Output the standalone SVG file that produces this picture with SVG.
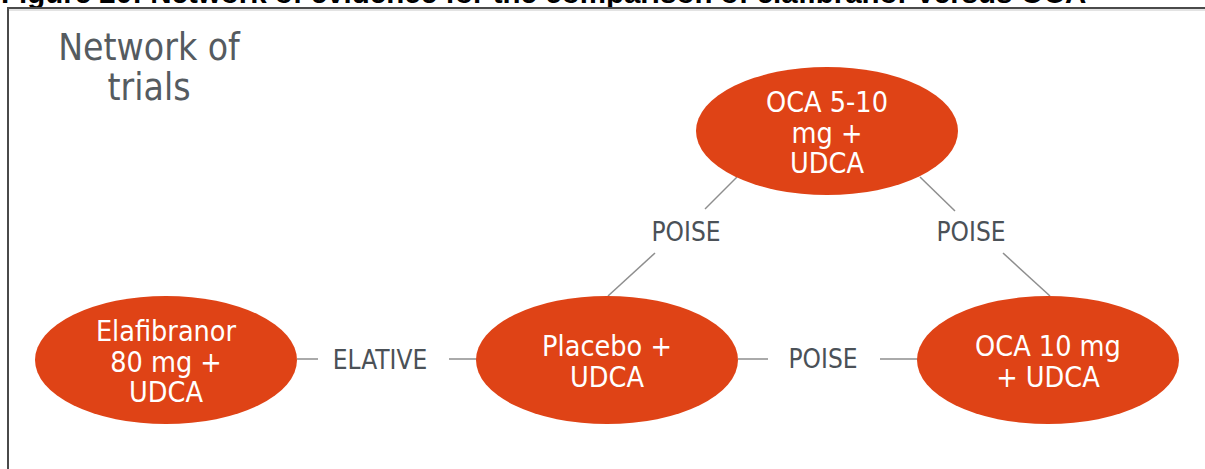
<svg xmlns="http://www.w3.org/2000/svg" width="1205" height="469" viewBox="0 0 1205 469">
<style>
.node{fill:#DF4316}
.nt{font-family:"DejaVu Sans Condensed","DejaVu Sans",sans-serif;font-stretch:condensed;font-size:28.5px;fill:#ffffff;text-anchor:middle}
.lbl{font-family:"DejaVu Sans Condensed","DejaVu Sans",sans-serif;font-stretch:condensed;font-size:26px;fill:#4b5157;text-anchor:middle}
.head{font-family:"DejaVu Sans Condensed","DejaVu Sans",sans-serif;font-stretch:condensed;font-size:37px;fill:#555b60;text-anchor:middle}
.edge{stroke:#8e8e8e;stroke-width:1.5;fill:none}
.title{font-family:"Liberation Sans",Arial,sans-serif;font-weight:bold;font-size:29.5px;fill:#000}
</style>
<rect width="1205" height="469" fill="#ffffff"/>
<text class="title" x="1" y="3">Figure 20: Network of evidence for the comparison of elafibranor versus OCA</text>
<path d="M8 469 V8 H1205" fill="none" stroke="#4a4a4a" stroke-width="2"/>
<line x1="9" y1="10" x2="1205" y2="10" stroke="#c8c8c8" stroke-width="1"/>
<g id="heading">
<text class="head" x="149" y="60">Network of</text>
<text class="head" x="149" y="100">trials</text>
</g>
<g id="connectors">
<line class="edge" x1="297" y1="359" x2="318" y2="359"/>
<line class="edge" x1="449" y1="359" x2="478" y2="359"/>
<line class="edge" x1="738" y1="359" x2="768" y2="359"/>
<line class="edge" x1="880" y1="359" x2="918" y2="359"/>
<line class="edge" x1="737" y1="177" x2="705" y2="209"/>
<line class="edge" x1="655" y1="253" x2="608" y2="296"/>
<line class="edge" x1="920" y1="177" x2="955" y2="211"/>
<line class="edge" x1="1003" y1="253" x2="1050" y2="296"/>
<text class="lbl" x="380" y="369">ELATIVE</text>
<text class="lbl" x="823" y="368">POISE</text>
<text class="lbl" x="686" y="241">POISE</text>
<text class="lbl" x="971" y="241">POISE</text>
</g>
<g id="node-elafibranor">
<ellipse class="node" cx="166" cy="360" rx="131" ry="64"/>
<text class="nt" x="166" y="341">Elafibranor</text>
<text class="nt" x="166" y="372">80 mg +</text>
<text class="nt" x="166" y="402">UDCA</text>
</g>
<g id="node-placebo">
<ellipse class="node" cx="607" cy="360" rx="131" ry="64"/>
<text class="nt" x="607" y="356">Placebo +</text>
<text class="nt" x="607" y="387">UDCA</text>
</g>
<g id="node-oca10">
<ellipse class="node" cx="1048" cy="360" rx="131" ry="64"/>
<text class="nt" x="1048" y="356">OCA 10 mg</text>
<text class="nt" x="1048" y="387">+ UDCA</text>
</g>
<g id="node-oca5-10">
<ellipse class="node" cx="827" cy="131" rx="131" ry="64"/>
<text class="nt" x="827" y="112">OCA 5-10</text>
<text class="nt" x="827" y="143">mg +</text>
<text class="nt" x="827" y="173">UDCA</text>
</g>
</svg>
